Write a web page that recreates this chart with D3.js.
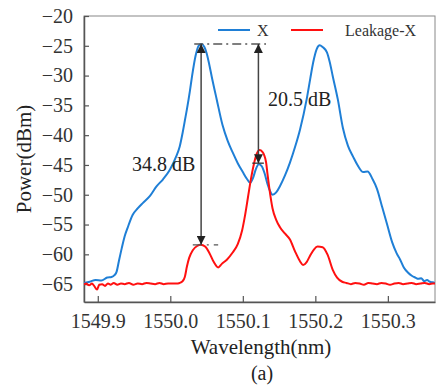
<!DOCTYPE html>
<html><head><meta charset="utf-8">
<script src="https://cdn.jsdelivr.net/npm/d3@7"></script>
<style>body{margin:0;background:#fff;} svg{display:block;} svg text{font-family:'Liberation Serif','Times New Roman',serif !important;}</style>
</head><body>
<script>
// ---- data ----
const xTicks = [1549.9, 1550.0, 1550.1, 1550.2, 1550.3];
const yTicks = [-65, -60, -55, -50, -45, -40, -35, -30, -25, -20];
const seriesNames = ["X", "Leakage-X"];
const blueWl = [1549.881,1549.889,1549.897,1549.905,1549.913,1549.919,1549.923,1549.926,1549.929,1549.933,1549.937,1549.941,1549.948,1549.955,1549.962,1549.972,1549.981,1549.990,1549.999,1550.008,1550.013,1550.017,1550.020,1550.023,1550.027,1550.030,1550.035,1550.039,1550.043,1550.047,1550.050,1550.054,1550.057,1550.064,1550.072,1550.079,1550.086,1550.093,1550.100,1550.106,1550.110,1550.114,1550.118,1550.122,1550.126,1550.130,1550.134,1550.138,1550.141,1550.146,1550.151,1550.158,1550.165,1550.172,1550.179,1550.188,1550.193,1550.197,1550.202,1550.206,1550.210,1550.216,1550.220,1550.224,1550.231,1550.238,1550.245,1550.252,1550.259,1550.266,1550.272,1550.279,1550.285,1550.292,1550.299,1550.306,1550.312,1550.317,1550.322,1550.328,1550.333,1550.338,1550.342,1550.346,1550.350,1550.354,1550.358,1550.362,1550.365];
const blueDb = [-64.8,-64.6,-64.3,-64.4,-63.9,-63.8,-63.5,-62.9,-61.2,-59.0,-57.0,-55.6,-53.4,-52.3,-51.4,-50.2,-48.6,-47.4,-45.9,-43.6,-41.9,-39.6,-37.6,-35.6,-32.6,-30.1,-26.6,-25.0,-24.7,-25.2,-26.2,-28.3,-30.1,-34.0,-38.3,-40.9,-42.9,-44.7,-46.2,-47.4,-48.0,-47.2,-45.7,-44.9,-45.2,-46.4,-48.2,-49.5,-50.0,-49.6,-48.6,-46.8,-44.6,-42.0,-39.0,-34.0,-30.5,-27.8,-25.5,-24.9,-25.2,-26.1,-27.8,-30.1,-34.0,-38.8,-41.8,-43.6,-45.2,-46.2,-46.1,-47.4,-49.0,-52.0,-55.0,-58.0,-59.8,-60.9,-62.2,-63.1,-63.6,-63.9,-64.1,-64.0,-64.5,-64.3,-64.6,-64.7,-64.8];
const redWl = [1549.880,1549.884,1549.888,1549.892,1549.895,1549.899,1549.902,1549.906,1549.910,1549.914,1549.918,1549.922,1549.927,1549.932,1549.937,1549.943,1549.949,1549.955,1549.961,1549.967,1549.973,1549.979,1549.985,1549.991,1549.997,1550.003,1550.008,1550.013,1550.017,1550.020,1550.023,1550.026,1550.031,1550.037,1550.042,1550.048,1550.054,1550.060,1550.066,1550.071,1550.078,1550.086,1550.093,1550.099,1550.103,1550.107,1550.111,1550.115,1550.119,1550.123,1550.127,1550.132,1550.134,1550.137,1550.141,1550.146,1550.151,1550.158,1550.165,1550.172,1550.179,1550.183,1550.188,1550.192,1550.198,1550.203,1550.210,1550.217,1550.224,1550.230,1550.237,1550.243,1550.249,1550.255,1550.261,1550.267,1550.273,1550.279,1550.285,1550.291,1550.297,1550.303,1550.309,1550.315,1550.321,1550.327,1550.333,1550.339,1550.345,1550.351,1550.357,1550.362,1550.365];
const redDb = [-65.1,-64.9,-65.2,-64.9,-65.3,-65.9,-65.1,-65.0,-65.3,-64.9,-65.1,-64.8,-65.1,-64.9,-65.0,-64.8,-65.1,-64.9,-65.0,-64.8,-64.9,-65.0,-64.8,-65.0,-64.9,-64.9,-64.9,-64.8,-64.5,-63.8,-62.0,-60.6,-59.3,-58.6,-58.4,-58.7,-59.8,-61.3,-62.2,-61.6,-60.9,-59.7,-58.3,-56.0,-53.5,-50.5,-47.5,-45.0,-43.2,-42.5,-42.8,-44.5,-46.5,-49.3,-52.3,-54.2,-55.4,-56.5,-57.5,-59.5,-61.2,-61.8,-61.3,-60.4,-59.2,-58.7,-58.8,-60.1,-62.6,-63.9,-64.6,-64.8,-65.0,-64.8,-64.9,-65.1,-64.8,-64.9,-65.0,-64.8,-64.9,-65.1,-64.9,-64.8,-65.0,-64.9,-64.8,-65.0,-64.9,-64.8,-65.0,-64.9,-64.9];
// annotations
const arrowWl = [1550.0425, 1550.1215];
const arrowTop = -24.7;
const arrowBottom = [-58.4, -44.7];
const annoLabels = ["34.8 dB", "20.5 dB"];

// ---- layout ----
const W = 439, H = 387;
const L = 84, R = 435, T = 16, B = 302;
const FF = "Liberation Serif";
const svg = d3.select("body").append("svg").attr("width", W).attr("height", H)
  .attr("font-family", FF);
const x = d3.scaleLinear().domain([1549.881, 1550.365]).range([L, R]);
const y = d3.scaleLinear().domain([-68, -20]).range([B, T]);

const defs = svg.append("defs");
defs.append("marker").attr("id","ah").attr("viewBox","0 0 10 10").attr("refX",10).attr("refY",5)
  .attr("markerWidth",9).attr("markerHeight",9).attr("markerUnits","userSpaceOnUse").attr("orient","auto-start-reverse")
  .append("path").attr("d","M0,0 L10,5 L0,10 z").attr("fill","#222");

// frame
svg.append("rect").attr("x",L).attr("y",T).attr("width",R-L).attr("height",B-T)
  .attr("fill","none").attr("stroke","#888").attr("stroke-width",1);

// axes
const xAxis = d3.axisBottom(x).tickValues(xTicks).tickFormat(d3.format(".1f")).tickSizeInner(-6).tickSizeOuter(0).tickPadding(12);
const gx = svg.append("g").attr("transform",`translate(0,${B})`).call(xAxis).attr("font-family",FF).attr("font-size",20);
gx.select(".domain").attr("stroke","#555").attr("stroke-width",1.5);
gx.selectAll(".tick line").attr("stroke","#555").attr("stroke-width",1.2);
gx.selectAll("text").attr("fill","#333").style("font-family",FF);

const yAxis = d3.axisLeft(y).tickValues(yTicks).tickFormat(d3.format("d")).tickSizeInner(-5).tickSizeOuter(0).tickPadding(11);
const gy = svg.append("g").attr("transform",`translate(${L},0)`).call(yAxis).attr("font-family",FF).attr("font-size",20);
gy.select(".domain").attr("stroke","#555").attr("stroke-width",1.5);
gy.selectAll(".tick line").attr("stroke","#555").attr("stroke-width",1.2);
gy.selectAll("text").attr("fill","#333").style("font-family",FF);

// axis titles
svg.append("text").attr("x",261).attr("y",354).attr("text-anchor","middle").attr("font-size",21).attr("fill","#222").text("Wavelength(nm)");
svg.append("text").attr("transform","translate(31,159) rotate(-90)").attr("text-anchor","middle").attr("font-size",21).attr("fill","#222").text("Power(dBm)");
svg.append("text").attr("x",262).attr("y",380).attr("text-anchor","middle").attr("font-size",20).attr("fill","#222").text("(a)");

// lines
defs.append("clipPath").attr("id","pc").append("rect").attr("x",L).attr("y",T).attr("width",R-L).attr("height",B-T);
const line = d3.line().x(d=>x(d[0])).y(d=>y(d[1])).curve(d3.curveMonotoneX);
const blue = blueWl.map((w,i)=>[w,blueDb[i]]);
const red = redWl.map((w,i)=>[w,redDb[i]]);
svg.append("path").datum(blue).attr("d",line).attr("fill","none").attr("stroke","#1f7fd6").attr("stroke-width",2).attr("clip-path","url(#pc)");
svg.append("path").datum(red).attr("d",line).attr("fill","none").attr("stroke","#ff1010").attr("stroke-width",2).attr("clip-path","url(#pc)");

// annotation lines
svg.append("line").attr("x1",x(1550.033)).attr("x2",x(1550.132)).attr("y1",y(arrowTop)).attr("y2",y(arrowTop))
  .attr("stroke","#555").attr("stroke-width",1.3).attr("stroke-dasharray","9,4,2,4");
svg.append("line").attr("x1",x(1550.031)).attr("x2",x(1550.066)).attr("y1",y(arrowBottom[0])).attr("y2",y(arrowBottom[0]))
  .attr("stroke","#555").attr("stroke-width",1.3).attr("stroke-dasharray","9,5,2,5");
svg.append("line").attr("x1",x(1550.113)).attr("x2",x(1550.129)).attr("y1",y(arrowBottom[1])).attr("y2",y(arrowBottom[1]))
  .attr("stroke","#333").attr("stroke-width",1.3);
arrowWl.forEach((w,i)=>{
  svg.append("line").attr("x1",x(w)).attr("x2",x(w)).attr("y1",y(arrowTop)).attr("y2",y(arrowBottom[i]))
    .attr("stroke","#444").attr("stroke-width",1.5)
    .attr("marker-start","url(#ah)").attr("marker-end","url(#ah)");
});
svg.append("text").attr("x",132).attr("y",171).attr("font-size",20).attr("fill","#222").text(annoLabels[0]);
svg.append("text").attr("x",268).attr("y",106).attr("font-size",20).attr("fill","#222").text(annoLabels[1]);

// legend
const leg = [{c:"#1f7fd6", x1:218, x2:250, tx:257}, {c:"#ff1010", x1:291, x2:323, tx:345}];
leg.forEach((l,i)=>{
  svg.append("line").attr("x1",l.x1).attr("x2",l.x2).attr("y1",30).attr("y2",30).attr("stroke",l.c).attr("stroke-width",2);
  svg.append("text").attr("x",l.tx).attr("y",36).attr("font-size",16).attr("fill","#333").text(seriesNames[i]);
});
</script>
</body></html>
